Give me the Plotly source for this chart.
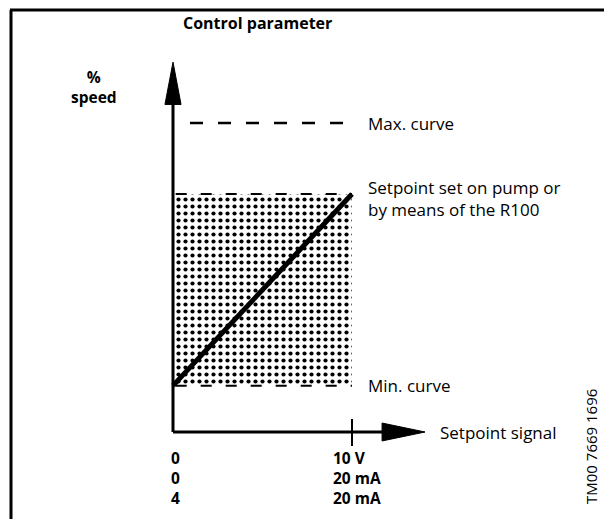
import plotly.graph_objects as go

# Control parameter diagram: pump speed versus external setpoint signal
signal = [0, 10]                 # setpoint signal span (0-10 V / 0(4)-20 mA)
min_curve = 15                   # % speed at minimum curve
setpoint_top = 77                # % speed at top of setpoint band
max_curve = 100                  # % speed at maximum curve
signal_labels_start = ["0", "0", "4"]
signal_labels_end = ["10 V", "20 mA", "20 mA"]

W, H = 604, 519
# pixel scale: x=0 sits at 173 px, 17.9 px per volt; y=0 sits at 432 px, 3.09 px per %
PX_X0, PX_PER_X = 173, 17.9
PX_Y0, PX_PER_Y = 432, 3.09
x_range = [-PX_X0 / PX_PER_X, (W - PX_X0) / PX_PER_X]
y_range = [-(H - PX_Y0) / PX_PER_Y, PX_Y0 / PX_PER_Y]

FONT = "Open Sans"
x0, x1 = signal

fig = go.Figure()

# dotted setpoint band
fig.add_trace(go.Scatter(
    x=[x0, x1, x1, x0, x0],
    y=[min_curve, min_curve, setpoint_top, setpoint_top, min_curve],
    mode="lines", fill="toself", line=dict(width=0, color="black"),
    fillcolor="white",
    fillpattern=dict(shape=".", fgcolor="black", bgcolor="white", fgopacity=1,
                     size=7, solidity=0.28),
    hoverinfo="skip",
))

# dashed band edges
for level in (min_curve, setpoint_top):
    fig.add_trace(go.Scatter(
        x=[x0 + 0.15, x1], y=[level, level], mode="lines",
        line=dict(color="black", width=2, dash="11px,14px"), hoverinfo="skip",
    ))

# max. curve
fig.add_trace(go.Scatter(
    x=[x0 + 0.95, x1], y=[max_curve, max_curve], mode="lines",
    line=dict(color="black", width=2.5, dash="13px,15px"), hoverinfo="skip",
))

# setpoint characteristic
fig.add_trace(go.Scatter(
    x=signal, y=[min_curve, setpoint_top], mode="lines",
    line=dict(color="black", width=5), hoverinfo="skip",
))

shapes = []
# axes
y_tip, y_base, y_half = 119.7, 106.0, 0.45
x_tip, x_base, x_half = 14.08, 11.68, 2.9
shapes.append(dict(type="line", x0=0, y0=0, x1=0, y1=y_base + 1, line=dict(color="black", width=3)))
shapes.append(dict(type="line", x0=0, y0=0, x1=x_base + 0.1, y1=0, line=dict(color="black", width=3)))
shapes.append(dict(type="path",
                   path=f"M {-y_half} {y_base} L 0 {y_tip} L {y_half} {y_base} Z",
                   fillcolor="black", line=dict(color="black", width=1)))
shapes.append(dict(type="path",
                   path=f"M {x_base} {-x_half} L {x_tip} 0 L {x_base} {x_half} Z",
                   fillcolor="black", line=dict(color="black", width=1)))
# tick at end of signal span
shapes.append(dict(type="line", x0=x1, y0=-4.5, x1=x1, y1=4.2, line=dict(color="black", width=2)))

# frame (top and left edges)
shapes.append(dict(type="line", xref="paper", yref="paper",
                   x0=10 / W, y0=1 - 10 / H, x1=1, y1=1 - 10 / H,
                   line=dict(color="black", width=3)))
shapes.append(dict(type="line", xref="paper", yref="paper",
                   x0=11 / W, y0=0, x1=11 / W, y1=1 - 10 / H,
                   line=dict(color="black", width=3)))


def px_x(p):
    return (p - PX_X0) / PX_PER_X


def px_y(p):
    return (PX_Y0 - p) / PX_PER_Y


annotations = []


def label(text, x, y, size=17, xanchor="left", bold=False, **kw):
    if bold:
        text = "<b>" + text + "</b>"
    annotations.append(dict(
        text=text, x=x, y=y, xref="x", yref="y", showarrow=False,
        xanchor=xanchor, yanchor="middle", align=xanchor if xanchor != "center" else "center",
        font=dict(family=FONT, size=size, color="black"), **kw))


label("Control parameter", px_x(181), px_y(23), size=16, bold=True)
label("%<br>speed", px_x(94), px_y(87), size=15.5, xanchor="center", bold=True)
label("Max. curve", px_x(366), max_curve, size=17)
label("Setpoint set on pump or<br>by means of the R100", px_x(366), px_y(198), size=17)
label("Min. curve", px_x(366), min_curve, size=17)
label("Setpoint signal", px_x(438), 0, size=17)

# scale labels under the signal axis (V, mA, mA rows)
label("<br>".join(signal_labels_start), x0 - 0.2, px_y(477.5), size=15.5, bold=True)
label("<br>".join(signal_labels_end), x1 - 1.2, px_y(477.5), size=15.5, bold=True)

annotations.append(dict(
    text="TM00 7669 1696", x=px_x(591), y=px_y(447), xref="x", yref="y",
    showarrow=False, textangle=-90, xanchor="center", yanchor="middle",
    font=dict(family=FONT, size=15, color="black")))

fig.update_layout(
    width=W, height=H, margin=dict(l=0, r=0, t=0, b=0),
    paper_bgcolor="white", plot_bgcolor="white", showlegend=False,
    xaxis=dict(range=x_range, visible=False, fixedrange=True),
    yaxis=dict(range=y_range, visible=False, fixedrange=True),
    shapes=shapes, annotations=annotations,
)

fig.write_html("out.html")
